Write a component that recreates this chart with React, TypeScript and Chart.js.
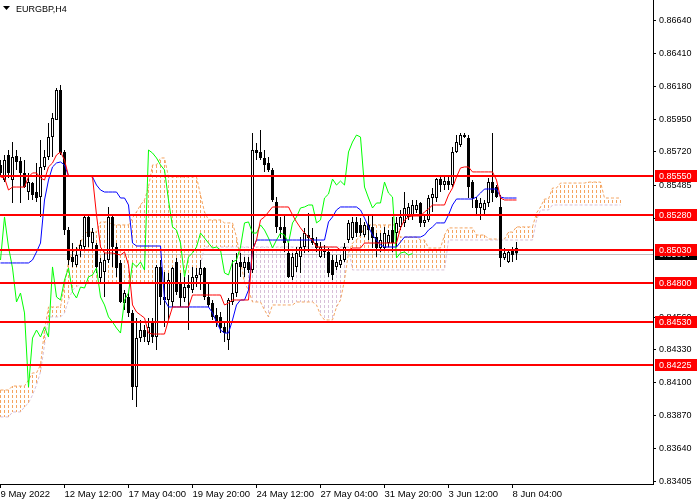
import React, { useEffect, useRef } from "react";
import { Chart, registerables } from "chart.js";

Chart.register(...registerables);

const symbolTitle = "EURGBP,H4";

const openP = [
  0.85629, 0.85523, 0.85699, 0.85523, 0.85692, 0.85657, 0.85573, 0.85439, 0.85502, 0.85439,
  0.85404, 0.85615, 0.85685, 0.85825, 0.85945, 0.86155, 0.8572, 0.85172, 0.84983, 0.84927,
  0.85032, 0.85053, 0.85264, 0.85081, 0.85067, 0.84836, 0.84878, 0.84962, 0.85264, 0.85053,
  0.84941, 0.8466, 0.84702, 0.8459, 0.8407, 0.84414, 0.8447, 0.84386, 0.8452, 0.84421,
  0.84913, 0.84702, 0.84681, 0.84667, 0.84948, 0.84807, 0.84695, 0.84786, 0.84751, 0.84836,
  0.84857, 0.84906, 0.84702, 0.8466, 0.84576, 0.84562, 0.84492, 0.844, 0.84667, 0.8473,
  0.84948, 0.84906, 0.84948, 0.84892, 0.85734, 0.8572, 0.85678, 0.85643, 0.85594, 0.85369,
  0.85194, 0.85194, 0.85011, 0.84843, 0.84913, 0.84983, 0.85053, 0.85137, 0.85116, 0.85081,
  0.84983, 0.85018, 0.85018, 0.84962, 0.84913, 0.84927, 0.84962, 0.85102, 0.85116, 0.85229,
  0.85208, 0.85137, 0.85208, 0.85194, 0.85123, 0.85046, 0.85046, 0.85081, 0.85172, 0.85151,
  0.85194, 0.85222, 0.85264, 0.85278, 0.85313, 0.85362, 0.85222, 0.85243, 0.85397, 0.85397,
  0.8553, 0.85488, 0.85516, 0.85488, 0.8572, 0.85769, 0.85839, 0.85818, 0.85509, 0.85383,
  0.85327, 0.85313, 0.85362, 0.85509, 0.85474, 0.85334, 0.84976, 0.84948, 0.85032, 0.85046,
];

const highP = [
  0.85664, 0.85699, 0.85734, 0.8579, 0.85734, 0.85685, 0.85664, 0.85573, 0.85509, 0.85643,
  0.85804, 0.85734, 0.85924, 0.85994, 0.86169, 0.8619, 0.85734, 0.85194, 0.85081, 0.85053,
  0.85102, 0.85278, 0.85278, 0.85187, 0.85081, 0.84976, 0.85011, 0.85334, 0.85278, 0.85081,
  0.84962, 0.84751, 0.8473, 0.84611, 0.84555, 0.84541, 0.84506, 0.84555, 0.84555, 0.84927,
  0.84962, 0.84878, 0.84871, 0.84913, 0.84976, 0.84871, 0.84843, 0.84857, 0.84913, 0.84906,
  0.84962, 0.84913, 0.848, 0.84681, 0.84625, 0.84597, 0.8452, 0.84695, 0.84962, 0.85011,
  0.85011, 0.84983, 0.84983, 0.85853, 0.85783, 0.85874, 0.85734, 0.85685, 0.85608, 0.85404,
  0.85264, 0.85278, 0.85081, 0.85011, 0.85053, 0.85123, 0.85187, 0.85292, 0.85187, 0.85123,
  0.85088, 0.85067, 0.85046, 0.84997, 0.84997, 0.84997, 0.85081, 0.85243, 0.85264, 0.85264,
  0.85257, 0.85229, 0.85278, 0.85278, 0.85151, 0.85151, 0.85194, 0.85172, 0.85264, 0.85264,
  0.85313, 0.85439, 0.85362, 0.85383, 0.85383, 0.85369, 0.85278, 0.85418, 0.85467, 0.85538,
  0.85552, 0.85559, 0.85559, 0.85755, 0.85839, 0.85853, 0.85853, 0.85839, 0.85523, 0.85404,
  0.85397, 0.85383, 0.85538, 0.85853, 0.85488, 0.85418, 0.85046, 0.85032, 0.85053, 0.85088,
];

const lowP = [
  0.85545, 0.85509, 0.85538, 0.85362, 0.85594, 0.85362, 0.85467, 0.85383, 0.85383, 0.85369,
  0.85264, 0.85594, 0.85664, 0.85685, 0.85945, 0.85699, 0.85137, 0.84927, 0.84913, 0.84913,
  0.84983, 0.85032, 0.85053, 0.85032, 0.84871, 0.84807, 0.84702, 0.84941, 0.84913, 0.84843,
  0.8466, 0.84611, 0.84562, 0.83979, 0.8393, 0.84386, 0.84386, 0.84365, 0.84379, 0.8433,
  0.84646, 0.84492, 0.84541, 0.84632, 0.84716, 0.84632, 0.84667, 0.8447, 0.8473, 0.84772,
  0.84751, 0.84681, 0.84632, 0.84541, 0.84492, 0.84449, 0.84386, 0.8433, 0.84646, 0.84702,
  0.84843, 0.84843, 0.84871, 0.84871, 0.85664, 0.85664, 0.8558, 0.8558, 0.85369, 0.85151,
  0.85116, 0.85018, 0.84836, 0.84821, 0.84878, 0.84871, 0.85011, 0.85018, 0.85067, 0.85018,
  0.84976, 0.84976, 0.84843, 0.84821, 0.84892, 0.84906, 0.84948, 0.85081, 0.85102, 0.85123,
  0.8513, 0.85123, 0.85102, 0.85046, 0.84983, 0.85018, 0.85032, 0.85053, 0.85018, 0.85053,
  0.85172, 0.85194, 0.85243, 0.85243, 0.85292, 0.85194, 0.85194, 0.85229, 0.85299, 0.85369,
  0.85439, 0.85453, 0.85453, 0.85474, 0.85713, 0.85755, 0.85818, 0.85397, 0.85327, 0.85278,
  0.85243, 0.85278, 0.85334, 0.85369, 0.85397, 0.84913, 0.84962, 0.84941, 0.84948, 0.84962,
];

const closeP = [
  0.85573, 0.85664, 0.85573, 0.85685, 0.8565, 0.85573, 0.85474, 0.85509, 0.85418, 0.85397,
  0.85615, 0.85685, 0.85825, 0.85959, 0.86155, 0.85713, 0.85172, 0.84962, 0.84948, 0.84997,
  0.85067, 0.85264, 0.85123, 0.85158, 0.84913, 0.84948, 0.84962, 0.85264, 0.85053, 0.84906,
  0.84667, 0.8473, 0.8459, 0.8407, 0.84414, 0.8447, 0.84421, 0.84492, 0.84421, 0.84913,
  0.84702, 0.84681, 0.84821, 0.84906, 0.84737, 0.84695, 0.84772, 0.84765, 0.84843, 0.84857,
  0.84906, 0.84702, 0.84646, 0.84562, 0.84527, 0.84484, 0.84449, 0.84681, 0.8473, 0.84941,
  0.84913, 0.84948, 0.84892, 0.85734, 0.85713, 0.85678, 0.85629, 0.85594, 0.85383, 0.85194,
  0.85172, 0.85081, 0.84843, 0.84983, 0.85011, 0.85053, 0.85151, 0.85116, 0.85081, 0.85046,
  0.85053, 0.85032, 0.84871, 0.84857, 0.84948, 0.84962, 0.85053, 0.85222, 0.85229, 0.85151,
  0.85151, 0.85208, 0.85172, 0.85116, 0.85046, 0.85102, 0.85151, 0.85137, 0.85081, 0.85222,
  0.85264, 0.85327, 0.85334, 0.85348, 0.85348, 0.85222, 0.85243, 0.85397, 0.85425, 0.8553,
  0.85488, 0.85516, 0.85488, 0.8572, 0.8579, 0.85839, 0.85825, 0.85474, 0.85397, 0.85327,
  0.85362, 0.85362, 0.85509, 0.85432, 0.85404, 0.84976, 0.85011, 0.85018, 0.84997, 0.85007,
];

const tenkanSen = [
  0.85545, 0.85538, 0.85453, 0.85474, 0.85474, 0.85474, 0.85474, 0.85545, 0.85573, 0.85573,
  0.85538, 0.85523, 0.85615, 0.85643, 0.85699, 0.8572, 0.85664, 0.85552, 0.85552, 0.85552,
  0.85552, 0.85552, 0.85552, 0.85545, 0.85278, 0.85053, 0.85011, 0.85011, 0.85011, 0.85004,
  0.84997, 0.85018, 0.84927, 0.84646, 0.84597, 0.84576, 0.84555, 0.84449, 0.84442, 0.84442,
  0.84442, 0.84442, 0.84541, 0.84632, 0.84632, 0.84632, 0.84632, 0.84632, 0.84716, 0.84716,
  0.84716, 0.84716, 0.84716, 0.84716, 0.84716, 0.84716, 0.84646, 0.8466, 0.84681, 0.84681,
  0.84681, 0.84681, 0.84681, 0.85032, 0.85102, 0.85243, 0.85264, 0.85299, 0.85334, 0.85334,
  0.85334, 0.85334, 0.85334, 0.85278, 0.85229, 0.85187, 0.85151, 0.85123, 0.85102, 0.85053,
  0.85053, 0.85053, 0.85053, 0.85053, 0.85053, 0.85032, 0.85032, 0.85032, 0.85046, 0.85046,
  0.85046, 0.85081, 0.85081, 0.85081, 0.85081, 0.85081, 0.85081, 0.85081, 0.85081, 0.85081,
  0.85187, 0.85243, 0.85264, 0.85271, 0.85271, 0.85271, 0.85299, 0.8532, 0.85348, 0.85348,
  0.85348, 0.85348, 0.85418, 0.85467, 0.85545, 0.85608, 0.85615, 0.85615, 0.8558, 0.8558,
  0.8558, 0.8558, 0.8558, 0.8558, 0.85523, 0.85397, 0.85383, 0.85383, 0.85383, 0.85383,
];

const kijunSen = [
  0.84941, 0.84941, 0.84941, 0.84941, 0.84941, 0.84941, 0.84941, 0.84941, 0.84962, 0.85018,
  0.85081, 0.85383, 0.85523, 0.85615, 0.85643, 0.8565, 0.85629, 0.85552, 0.85552, 0.85552,
  0.85552, 0.85552, 0.85552, 0.85545, 0.85488, 0.85453, 0.85439, 0.85439, 0.85439, 0.85439,
  0.85397, 0.85397, 0.85348, 0.85081, 0.8506, 0.8506, 0.8506, 0.8506, 0.8506, 0.8506,
  0.8506, 0.84681, 0.84632, 0.84632, 0.84632, 0.84632, 0.84632, 0.84632, 0.84632, 0.84632,
  0.84632, 0.84632, 0.84632, 0.8459, 0.84527, 0.8447, 0.84449, 0.84449, 0.84541, 0.84646,
  0.84681, 0.84681, 0.84751, 0.85032, 0.85102, 0.85102, 0.85102, 0.85102, 0.85102, 0.85102,
  0.85102, 0.85102, 0.85102, 0.85102, 0.85102, 0.85102, 0.85102, 0.85102, 0.85102, 0.85102,
  0.85102, 0.85102, 0.85229, 0.85264, 0.85313, 0.85334, 0.85334, 0.85334, 0.85334, 0.85334,
  0.85313, 0.85257, 0.85194, 0.85137, 0.85102, 0.85067, 0.85053, 0.85053, 0.85053, 0.85053,
  0.85088, 0.85123, 0.85123, 0.85123, 0.85123, 0.85123, 0.85137, 0.85172, 0.85194, 0.85222,
  0.85222, 0.85222, 0.85278, 0.85348, 0.8539, 0.8539, 0.8539, 0.8539, 0.8539, 0.85404,
  0.85432, 0.8546, 0.8546, 0.8546, 0.8546, 0.85404, 0.85397, 0.85397, 0.85397, 0.85397,
];

const senkouSpanA = [
  0.84049, 0.84049, 0.84049, 0.84077, 0.84077, 0.84077, 0.84077, 0.84119, 0.84169, 0.84169,
  0.84225, 0.8447, 0.84632, 0.84632, 0.84632, 0.84632, 0.84786, 0.84948, 0.85018, 0.85032,
  0.85081, 0.85151, 0.85158, 0.85158, 0.85158, 0.85229, 0.85229, 0.85229, 0.85208, 0.85208,
  0.85208, 0.85208, 0.85208, 0.85257, 0.85299, 0.85348, 0.85383, 0.85474, 0.85629, 0.85629,
  0.85678, 0.85678, 0.85545, 0.85545, 0.85545, 0.85545, 0.85545, 0.85545, 0.85545, 0.85545,
  0.85418, 0.85299, 0.85243, 0.85243, 0.85243, 0.85243, 0.85222, 0.85222, 0.85222, 0.85123,
  0.84962, 0.848, 0.84751, 0.84667, 0.84667, 0.84667, 0.84611, 0.84562, 0.84646, 0.84646,
  0.84646, 0.84646, 0.84646, 0.84646, 0.84667, 0.84667, 0.84667, 0.84667, 0.84667, 0.84646,
  0.84576, 0.84541, 0.84541, 0.84541, 0.84632, 0.84681, 0.84821, 0.85011, 0.85081, 0.85102,
  0.85137, 0.85187, 0.85208, 0.85208, 0.85208, 0.85208, 0.85208, 0.85208, 0.85208, 0.85208,
  0.85123, 0.85123, 0.85123, 0.85123, 0.85123, 0.85102, 0.85102, 0.85046, 0.85046, 0.85046,
  0.85046, 0.85137, 0.85187, 0.85187, 0.85187, 0.85187, 0.85187, 0.85187, 0.85187, 0.85137,
  0.85137, 0.85137, 0.85109, 0.85109, 0.85109, 0.85109, 0.85109, 0.85158, 0.85158, 0.85194,
  0.85194, 0.85194, 0.85194, 0.85194, 0.85292, 0.85334, 0.8539, 0.8539, 0.85467, 0.85467,
  0.85502, 0.85502, 0.85502, 0.85502, 0.85502, 0.85502, 0.85502, 0.85509, 0.85509, 0.85509,
  0.85509, 0.85397, 0.85397, 0.85397, 0.85397, 0.85397,
];

const senkouSpanB = [
  0.8386, 0.8386, 0.8386, 0.83895, 0.83895, 0.83895, 0.8393, 0.83958, 0.84014, 0.84084,
  0.84176, 0.84365, 0.84562, 0.84562, 0.84562, 0.84562, 0.8459, 0.84681, 0.84751, 0.84772,
  0.848, 0.848, 0.848, 0.848, 0.848, 0.848, 0.848, 0.848, 0.848, 0.848,
  0.848, 0.848, 0.848, 0.848, 0.848, 0.848, 0.848, 0.848, 0.848, 0.848,
  0.848, 0.848, 0.848, 0.848, 0.848, 0.848, 0.848, 0.848, 0.848, 0.848,
  0.84927, 0.85053, 0.85053, 0.85053, 0.85053, 0.85053, 0.85053, 0.85053, 0.85053, 0.85053,
  0.85053, 0.85053, 0.85053, 0.85053, 0.85053, 0.85053, 0.85053, 0.85053, 0.85053, 0.85053,
  0.85053, 0.85053, 0.85053, 0.85053, 0.85053, 0.85053, 0.85053, 0.85053, 0.85053, 0.85053,
  0.85053, 0.85053, 0.85053, 0.85053, 0.85053, 0.85053, 0.85053, 0.85053, 0.84892, 0.84892,
  0.84892, 0.84892, 0.84892, 0.84892, 0.84892, 0.84892, 0.84892, 0.84892, 0.84892, 0.84892,
  0.84892, 0.84892, 0.84892, 0.84892, 0.84892, 0.84892, 0.84892, 0.84892, 0.84892, 0.84892,
  0.84892, 0.84892, 0.85102, 0.85102, 0.85102, 0.85102, 0.85102, 0.85102, 0.85102, 0.85102,
  0.85102, 0.85102, 0.85102, 0.85102, 0.85102, 0.85102, 0.85102, 0.85102, 0.85102, 0.85102,
  0.85102, 0.85102, 0.85102, 0.85102, 0.85243, 0.85313, 0.85313, 0.85313, 0.85348, 0.85348,
  0.85348, 0.85348, 0.85348, 0.85348, 0.85348, 0.85348, 0.85348, 0.85348, 0.85348, 0.85348,
  0.85348, 0.85348, 0.85348, 0.85348, 0.85348, 0.85348,
];

const chikouShift = 26;

const xTickIndex = [0, 16, 32, 48, 64, 80, 96, 112, 128];
const xTickLabels = [
  "9 May 2022", "12 May 12:00", "17 May 04:00", "19 May 20:00", "24 May 12:00",
  "27 May 04:00", "31 May 20:00", "3 Jun 12:00", "8 Jun 04:00",
];

const yTickValues = [
  0.8664, 0.8641, 0.8618, 0.8595, 0.8572, 0.85485, 0.85255,
  0.8456, 0.8433, 0.841, 0.8387, 0.8364, 0.83405,
];

const levelLines = [0.8555, 0.8528, 0.8503, 0.848, 0.8453, 0.84225];
const bidPrice = 0.85007;

const X_MIN = -0.125;
const X_MAX = 163.125;
const Y_MIN = 0.833893;
const Y_MAX = 0.86787;

const FONT = '"Liberation Sans", Arial, sans-serif';
const SANDY = "#F4A460";
const THISTLE = "#D8BFD8";

const overlayPlugin = {
  id: "mt4overlay",
  beforeDatasetsDraw(chart: any) {
    const { ctx, chartArea: a, scales } = chart;
    const xs = scales.x;
    const ys = scales.y;
    ctx.save();
    ctx.beginPath();
    ctx.rect(a.left, a.top, a.right - a.left, a.bottom - a.top);
    ctx.clip();
    ctx.lineWidth = 1;
    ctx.setLineDash([3, 2]);
    for (let i = 0; i < senkouSpanA.length; i++) {
      const px = Math.floor(xs.getPixelForValue(i)) + 0.5;
      const ya = ys.getPixelForValue(senkouSpanA[i]);
      const yb = ys.getPixelForValue(senkouSpanB[i]);
      const top = Math.round(Math.min(ya, yb));
      const bot = Math.round(Math.max(ya, yb));
      ctx.strokeStyle = senkouSpanA[i] >= senkouSpanB[i] ? SANDY : THISTLE;
      ctx.lineDashOffset = ((top % 5) + 5) % 5;
      ctx.beginPath();
      ctx.moveTo(px, top);
      ctx.lineTo(px, bot);
      ctx.stroke();
    }
    ctx.setLineDash([]);
    ctx.lineDashOffset = 0;
    const by = Math.round(ys.getPixelForValue(bidPrice)) + 0.5;
    ctx.strokeStyle = "#C0C0C0";
    ctx.beginPath();
    ctx.moveTo(a.left, by);
    ctx.lineTo(a.right, by);
    ctx.stroke();
    ctx.restore();
  },
  afterDatasetsDraw(chart: any) {
    const { ctx, chartArea: a, scales } = chart;
    const ys = scales.y;
    ctx.save();
    ctx.strokeStyle = "#FF0000";
    ctx.lineWidth = 2;
    for (const lv of levelLines) {
      const py = Math.round(ys.getPixelForValue(lv));
      ctx.beginPath();
      ctx.moveTo(a.left, py);
      ctx.lineTo(a.right, py);
      ctx.stroke();
    }
    ctx.restore();
  },
  afterDraw(chart: any) {
    const { ctx, chartArea: a, scales } = chart;
    const ys = scales.y;
    ctx.save();
    ctx.font = `9px ${FONT}`;
    ctx.textBaseline = "middle";
    ctx.textAlign = "left";
    const lx = a.right + 2;
    const bY = Math.round(ys.getPixelForValue(bidPrice));
    ctx.fillStyle = "#000000";
    ctx.fillRect(lx, bY - 6, 42, 12);
    ctx.fillStyle = "#FFFFFF";
    ctx.fillText(bidPrice.toFixed(5), lx + 4, bY + 0.5);
    for (const lv of levelLines) {
      const py = Math.round(ys.getPixelForValue(lv));
      ctx.fillStyle = "#FF0000";
      ctx.fillRect(lx, py - 6, 42, 12);
      ctx.fillStyle = "#FFFFFF";
      ctx.fillText(lv.toFixed(5), lx + 4, py + 0.5);
    }
    // title
    ctx.fillStyle = "#000000";
    ctx.beginPath();
    ctx.moveTo(3, 6);
    ctx.lineTo(10, 6);
    ctx.lineTo(6.5, 10);
    ctx.closePath();
    ctx.fill();
    ctx.textBaseline = "alphabetic";
    ctx.font = `9px ${FONT}`;
    ctx.fillText(symbolTitle, 16, 12);
    ctx.restore();
  },
};

export default function App() {
  const ref = useRef<HTMLCanvasElement>(null);

  useEffect(() => {
    const canvas = ref.current;
    if (!canvas) return;
    const idx = closeP.map((_, i) => i);
    const bodies = idx.map((i) => ({ x: i, y: [openP[i], closeP[i]] }));
    const wicks = idx.map((i) => ({ x: i, y: [lowP[i], highP[i]] }));
    const bodyColors = idx.map((i) => (closeP[i] >= openP[i] ? "#FFFFFF" : "#000000"));
    const chikou = closeP.slice(chikouShift).map((c, k) => ({ x: k, y: c }));
    const tenkanPts = tenkanSen.map((v, i) => ({ x: i, y: v }));
    const kijunPts = kijunSen.map((v, i) => ({ x: i, y: v }));
    const spanAPts = senkouSpanA.map((v, i) => ({ x: i, y: v }));
    const spanBPts = senkouSpanB.map((v, i) => ({ x: i, y: v }));

    const lineBase = {
      type: "line" as const,
      pointRadius: 0,
      borderWidth: 1,
      fill: false,
      tension: 0,
    };

    const chart = new Chart(canvas, {
      type: "bar",
      data: {
        datasets: [
          { ...lineBase, label: "Tenkan", data: tenkanPts, borderColor: "#FF0000", order: 1 },
          { ...lineBase, label: "Kijun", data: kijunPts, borderColor: "#0000FF", order: 2 },
          { ...lineBase, label: "Chikou", data: chikou, borderColor: "#00FF00", order: 3 },
          { ...lineBase, label: "SpanA", data: spanAPts, borderColor: SANDY, borderDash: [3, 2], order: 20 },
          { ...lineBase, label: "SpanB", data: spanBPts, borderColor: THISTLE, borderDash: [3, 2], order: 21 },
          {
            type: "bar",
            label: "Body",
            data: bodies as any,
            backgroundColor: bodyColors,
            borderColor: "#000000",
            borderWidth: 1,
            borderSkipped: false,
            barThickness: 3,
            grouped: false,
            inflateAmount: 0,
            minBarLength: 1,
            order: 10,
          } as any,
          {
            type: "bar",
            label: "Wick",
            data: wicks as any,
            backgroundColor: "#000000",
            borderWidth: 0,
            barThickness: 1,
            grouped: false,
            inflateAmount: 0,
            order: 11,
          } as any,
        ],
      },
      options: {
        responsive: false,
        maintainAspectRatio: false,
        animation: false,
        events: [],
        layout: { padding: 0 },
        plugins: { legend: { display: false }, tooltip: { enabled: false } },
        scales: {
          x: {
            type: "linear",
            position: "bottom",
            min: X_MIN,
            max: X_MAX,
            offset: false,
            grid: { display: true, drawOnChartArea: false, drawTicks: true, tickLength: 4, color: "#000000", offset: false },
            border: { display: true, color: "#000000", width: 1 },
            afterBuildTicks: (s: any) => {
              s.ticks = xTickIndex.map((v) => ({ value: v }));
            },
            afterFit: (s: any) => {
              s.height = 16;
              s.paddingLeft = 0;
              s.paddingRight = 0;
            },
            ticks: {
              autoSkip: false,
              maxRotation: 0,
              minRotation: 0,
              align: "start",
              padding: 1,
              color: "#000000",
              font: { family: FONT, size: 9.5 },
              callback: (_v: any, i: number) => xTickLabels[i] ?? "",
            },
          } as any,
          y: {
            type: "linear",
            position: "right",
            min: Y_MIN,
            max: Y_MAX,
            grid: { drawOnChartArea: false, drawTicks: true, tickLength: 3, color: "#000000" },
            border: { display: true, color: "#000000", width: 1 },
            afterBuildTicks: (s: any) => {
              s.ticks = yTickValues.map((v) => ({ value: v }));
            },
            afterFit: (s: any) => {
              s.width = 47;
              s.paddingTop = 0;
              s.paddingBottom = 0;
            },
            ticks: {
              autoSkip: false,
              padding: 3,
              color: "#000000",
              font: { family: FONT, size: 9 },
              callback: (v: any) => Number(v).toFixed(5),
            },
          } as any,
        },
      },
      plugins: [overlayPlugin],
    });
    return () => chart.destroy();
  }, []);

  return (
    <div style={{ position: "absolute", left: 0, top: 0, width: 700, height: 500, background: "#ffffff" }}>
      <canvas ref={ref} width={700} height={500} style={{ display: "block", width: 700, height: 500 }} />
    </div>
  );
}
